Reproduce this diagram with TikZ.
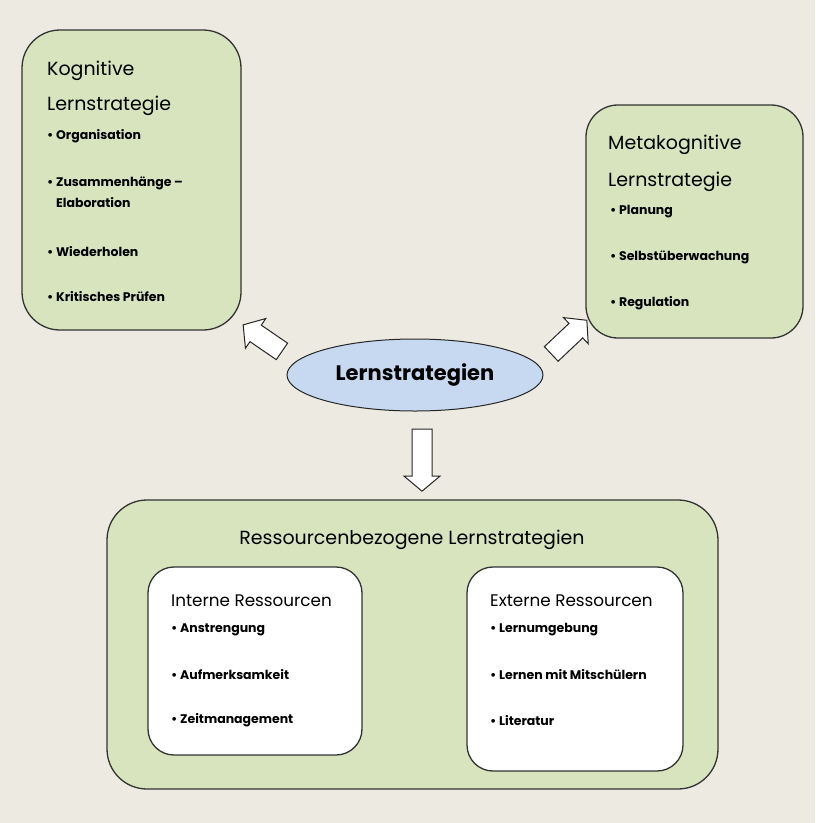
\documentclass[tikz,border=0pt]{standalone}
\usepackage{fontspec}
\setmainfont{Poppins}
\usetikzlibrary{shapes.geometric,shapes.arrows}
\definecolor{paper}{HTML}{EDEBE1}
\definecolor{boxgreen}{HTML}{D7E4BD}
\definecolor{ovalblue}{HTML}{C6D9F1}
\tikzset{
    greenbox/.style={draw=black!80, line width=1.3pt, fill=boxgreen,
        rounded corners=38pt, inner sep=0pt},
    whitebox/.style={greenbox, fill=white, rounded corners=26pt},
    blockarrow/.style={single arrow, draw=black!85, fill=white, line width=1pt,
        inner xsep=0pt, inner ysep=9.5pt, single arrow head extend=8pt,
        single arrow tip angle=100},
    head/.style={anchor=west, inner sep=0pt, font=\fontsize{19}{23}\selectfont},
    subhead/.style={anchor=west, inner sep=0pt, font=\fontsize{16.8}{20}\selectfont},
    item/.style={anchor=west, inner sep=0pt, font=\fontsize{12.5}{15}\selectfont\bfseries},
}

\begin{document}
\begin{tikzpicture}[x=1pt, y=-1pt]
        \fill [paper] (0, 0) rectangle (815, 823);
        \useasboundingbox (0, 0) rectangle (815, 823);
        % boxes
        \node [greenbox, minimum width=219pt, minimum height=300pt] (kog) at (131.5, 180) {};
        \node [greenbox, rounded corners=32pt, minimum width=217pt, minimum height=233pt] (meta) at (694.5, 221.5) {};
        \node [greenbox, rounded corners=40pt, minimum width=611pt, minimum height=289pt] (res) at (412.5, 644.5) {};
        \node [whitebox, minimum width=214pt, minimum height=188pt] (intern) at (255, 661) {};
        \node [whitebox, minimum width=216pt, minimum height=204pt] (extern) at (575, 669) {};
        \node [ellipse, draw=black!85, line width=1pt, fill=ovalblue, inner sep=0pt, minimum width=256pt,
            minimum height=72pt, font=\fontsize{21}{25}\selectfont\bfseries] (ls) at (415, 375) {Lernstrategien};
        % arrows
        \node [blockarrow, minimum height=47pt, rotate=145.6] (arrkog) at (266, 340.5) {};
        \node [blockarrow, minimum height=49pt, rotate=43.4] (arrmeta) at (566, 340) {};
        \node [blockarrow, minimum height=62pt, rotate=-90] (arrres) at (422, 456) {};
        % kognitive
        \node [head] (kog1) at (47, 71) {Kognitive};
        \node [head] (kog2) at (47, 106) {Lernstrategie};
        \foreach \y/\t in {136/Organisation, 183/Zusammenhänge –, 252/Wiederholen, 297/Kritisches Prüfen} {
            \node [item] at (47, \y) {\textbullet\ \t};
        }
        \node [item] (kog3) at (47, 203) {\phantom{\textbullet\ }Elaboration};
        % metakognitive
        \node [head] (meta1) at (608, 145) {Metakognitive};
        \node [head] (meta2) at (608, 182) {Lernstrategie};
        \foreach \y/\t in {212/Planung, 257/Selbstüberwachung, 303/Regulation} {
            \node [item] at (610, \y) {\textbullet\ \t};
        }
        % ressourcen
        \node [font=\fontsize{19}{23}\selectfont, inner sep=0pt] (res1) at (412, 540) {Ressourcenbezogene Lernstrategien};
        \node [subhead] (intern1) at (171, 601) {Interne Ressourcen};
        \foreach \y/\t in {630/Anstrengung, 675/Aufmerksamkeit, 720/Zeitmanagement} {
            \node [item] at (171, \y) {\textbullet\ \t};
        }
        \node [subhead] (extern1) at (490, 601) {Externe Ressourcen};
        \foreach \y/\t in {630/Lernumgebung, 675/Lernen mit Mitschülern, 721/Literatur} {
            \node [item] at (490, \y) {\textbullet\ \t};
        }
    \end{tikzpicture}
\end{document}
